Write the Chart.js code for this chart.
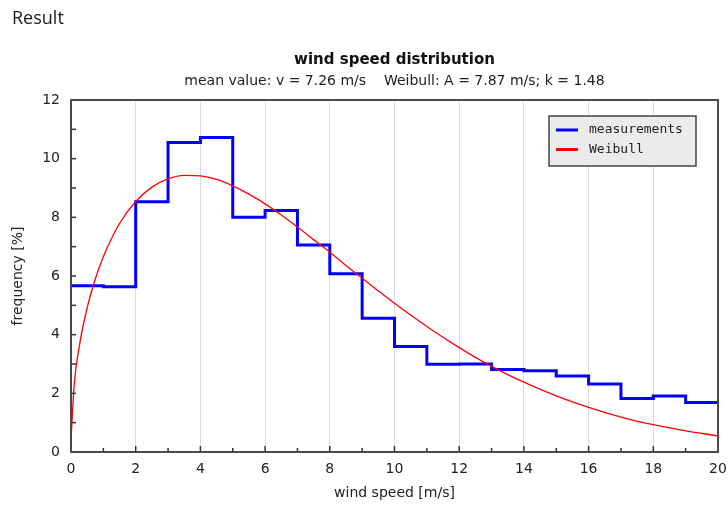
<!DOCTYPE html>
<html>
<head>
<meta charset="utf-8">
<script src="https://cdn.jsdelivr.net/npm/chart.js@4.4.1/dist/chart.umd.min.js"></script>
<style>
  body { margin: 0; background: #fff; }
  #wrap { position: relative; width: 728px; height: 509px; }
  #result { position: absolute; left: 12px; top: 8px; font: 18px/18px "Open Sans", sans-serif; color: #1a1a1a; }
  canvas { position: absolute; left: 0; top: 0; }
</style>
</head>
<body>
<div id="wrap">
  <canvas id="grafico" width="728" height="509"></canvas>
  <div id="result">Result</div>
</div>
<script>
// measured frequency per 1 m/s bin (bin start speeds)
const binStart = [0, 1, 2, 3, 4, 5, 6, 7, 8, 9, 10, 11, 12, 13, 14, 15, 16, 17, 18, 19];
const binEnd = 20;
const measured = [5.67, 5.63, 8.53, 10.55, 10.72, 8.0, 8.23, 7.06, 6.08, 4.56,
                  3.60, 2.99, 3.0, 2.81, 2.77, 2.59, 2.32, 1.82, 1.91, 1.69];

// Weibull curve
const weibullSpeed = [0.01, 0.1, 0.25, 0.5, 0.75, 1, 1.5, 2, 2.5, 3, 3.5, 4, 4.5, 5, 5.5, 6, 6.5, 7,
                      7.5, 8, 8.5, 9, 9.5, 10, 11, 12, 13, 14, 15, 16, 17, 18, 19, 20];
const weibullFreq = [0.62, 2.31, 3.57, 4.92, 5.90, 6.66, 7.79, 8.54, 9.03, 9.31, 9.43, 9.41, 9.29, 9.07, 8.79, 8.46, 8.08, 7.67,
                     7.24, 6.81, 6.36, 5.92, 5.49, 5.07, 4.28, 3.56, 2.92, 2.38, 1.91, 1.52, 1.19, 0.93, 0.72, 0.55];

const xTicks = [0, 1, 2, 3, 4, 5, 6, 7, 8, 9, 10, 11, 12, 13, 14, 15, 16, 17, 18, 19, 20];
const yTicks = [0, 1, 2, 3, 4, 5, 6, 7, 8, 9, 10, 11, 12];

const titulo = 'wind speed distribution';
const subtitulo = 'mean value: v = 7.26 m/s    Weibull: A = 7.87 m/s; k = 1.48';

Chart.defaults.font.family = '"DejaVu Sans", sans-serif';
Chart.defaults.color = '#222';

const puntosMedidos = binStart.map((x, i) => ({ x: x, y: measured[i] }));
puntosMedidos.push({ x: binEnd, y: measured[measured.length - 1] });
const puntosWeibull = weibullSpeed.map((x, i) => ({ x: x, y: weibullFreq[i] }));

// marco, ticks hacia dentro y leyenda
const marcoPlugin = {
    id: 'marco',
    afterDatasetsDraw(chart) {
        const { ctx, chartArea: a, scales: { x, y } } = chart;
        ctx.save();
        ctx.strokeStyle = '#333';
        ctx.lineWidth = 1.5;
        xTicks.forEach(v => {
            const px = x.getPixelForValue(v);
            const len = v % 2 === 0 ? 6 : 4;
            ctx.beginPath();
            ctx.moveTo(px, a.bottom);
            ctx.lineTo(px, a.bottom - len);
            ctx.stroke();
        });
        yTicks.forEach(v => {
            const py = y.getPixelForValue(v);
            ctx.beginPath();
            ctx.moveTo(a.left, py);
            ctx.lineTo(a.left + 5, py);
            ctx.stroke();
        });
        ctx.strokeStyle = '#4a4a4a';
        ctx.lineWidth = 2;
        ctx.strokeRect(a.left, a.top, a.right - a.left, a.bottom - a.top);

        // leyenda
        const lx = a.right - 169, ly = a.top + 16, lw = 147, lh = 50;
        ctx.fillStyle = '#ebebeb';
        ctx.fillRect(lx, ly, lw, lh);
        ctx.strokeStyle = '#444';
        ctx.lineWidth = 1.5;
        ctx.strokeRect(lx, ly, lw, lh);
        ctx.font = '13px "DejaVu Sans Mono", monospace';
        ctx.textBaseline = 'middle';
        ctx.textAlign = 'left';
        chart.data.datasets.forEach((ds, i) => {
            const yy = ly + 14 + i * 19.5;
            ctx.strokeStyle = ds.borderColor;
            ctx.lineWidth = 3;
            ctx.beginPath();
            ctx.moveTo(lx + 7, yy);
            ctx.lineTo(lx + 29, yy);
            ctx.stroke();
            ctx.fillStyle = '#222';
            ctx.fillText(ds.label, lx + 40, yy);
        });
        ctx.restore();
    }
};

const grafico = document.getElementById('grafico').getContext('2d');

window.graficaViento = new Chart(grafico, {
    type: 'line',
    data: {
        datasets: [{
            label: 'measurements',
            data: puntosMedidos,
            borderColor: '#0000ff',
            borderWidth: 3,
            stepped: 'before',
            pointRadius: 0,
            fill: false,
            order: 2
        }, {
            label: 'Weibull',
            data: puntosWeibull,
            borderColor: '#ff0000',
            borderWidth: 1.3,
            cubicInterpolationMode: 'monotone',
            pointRadius: 0,
            fill: false,
            order: 1
        }]
    },
    options: {
        responsive: false,
        animation: false,
        layout: { padding: { left: 0, right: 10, top: 0, bottom: 0 } },
        plugins: {
            legend: { display: false },
            tooltip: { enabled: false },
            title: {
                display: true,
                text: titulo,
                fullSize: false,
                font: { size: 15, weight: 'bold' },
                color: '#111',
                padding: { top: 51, bottom: 0 }
            },
            subtitle: {
                display: true,
                text: subtitulo,
                fullSize: false,
                font: { size: 14 },
                color: '#222',
                padding: { top: 3.6, bottom: 10.6 }
            }
        },
        scales: {
            x: {
                type: 'linear',
                min: 0,
                max: 20,
                afterFit: s => { s.height = 57; s.paddingLeft = 0; s.paddingRight = 0; },
                afterBuildTicks: s => { s.ticks = xTicks.map(v => ({ value: v })); },
                ticks: {
                    autoSkip: false,
                    maxRotation: 0,
                    padding: 8.5,
                    font: { size: 14 },
                    color: '#222',
                    callback: v => (v % 2 === 0 ? v : '')
                },
                grid: {
                    drawTicks: false,
                    lineWidth: 1,
                    color: c => (c.tick && c.tick.value % 2 === 0 && c.tick.value > 0 && c.tick.value < 20 ? '#dcdcdc' : 'rgba(0,0,0,0)')
                },
                border: { display: false },
                title: {
                    display: true,
                    text: 'wind speed [m/s]',
                    font: { size: 14 },
                    color: '#222',
                    padding: { top: 7.6, bottom: 7.6 }
                }
            },
            y: {
                type: 'linear',
                min: 0,
                max: 12,
                afterFit: s => { s.width = 71; s.paddingTop = 0; s.paddingBottom = 0; },
                afterBuildTicks: s => { s.ticks = yTicks.map(v => ({ value: v })); },
                ticks: {
                    autoSkip: false,
                    padding: 11,
                    font: { size: 14 },
                    color: '#222',
                    callback: v => (v % 2 === 0 ? v : '')
                },
                grid: { display: false, drawTicks: false },
                border: { display: false },
                title: {
                    display: true,
                    text: 'frequency [%]',
                    font: { size: 14 },
                    color: '#222',
                    padding: { top: 9.6, bottom: 9.6 }
                }
            }
        }
    },
    plugins: [marcoPlugin]
});
</script>
</body>
</html>
